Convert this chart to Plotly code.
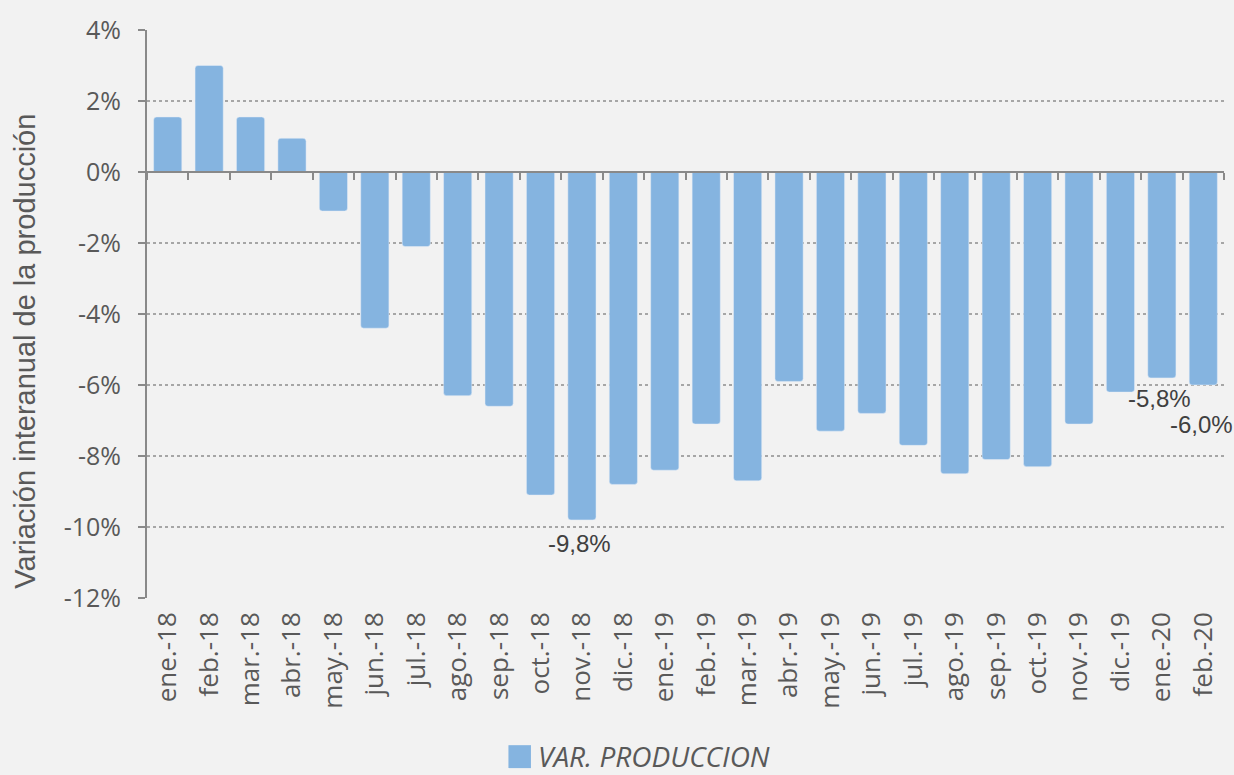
import plotly.graph_objects as go

categories = ["ene.-18", "feb.-18", "mar.-18", "abr.-18", "may.-18", "jun.-18", "jul.-18",
              "ago.-18", "sep.-18", "oct.-18", "nov.-18", "dic.-18", "ene.-19", "feb.-19",
              "mar.-19", "abr.-19", "may.-19", "jun.-19", "jul.-19", "ago.-19", "sep.-19",
              "oct.-19", "nov.-19", "dic.-19", "ene.-20", "feb.-20"]
values = [1.55, 3.0, 1.55, 0.95, -1.1, -4.4, -2.1, -6.3, -6.6, -9.1, -9.8, -8.8, -8.4, -7.1,
          -8.7, -5.9, -7.3, -6.8, -7.7, -8.5, -8.1, -8.3, -7.1, -6.2, -5.8, -6.0]
series_name = "VAR. PRODUCCION"
y_ticks = [4, 2, 0, -2, -4, -6, -8, -10, -12]
y_ticktext = [f"{v}%" for v in y_ticks]
labeled = {"nov.-18": "-9,8%", "ene.-20": "-5,8%", "feb.-20": "-6,0%"}
label_shift = {"nov.-18": (-2, -8), "ene.-20": (-2, -5), "feb.-20": (-2, -24)}

ymin, ymax = -12, 4
bar_color = "#85b4e0"
axis_color = "#898989"
text_color = "#595959"
tick_font = "Open Sans, Liberation Sans"
n = len(categories)

fig = go.Figure()
fig.add_trace(go.Bar(x=categories, y=values, name=series_name, marker_color=bar_color,
                     marker_cornerradius=3, showlegend=False))
# zero-line axis with boundary ticks
fig.add_trace(go.Bar(x=categories, y=[0] * n, xaxis="x2", marker_color="rgba(0,0,0,0)",
                     showlegend=False, hoverinfo="skip"))

for cat, txt in labeled.items():
    v = values[categories.index(cat)]
    xs, ys = label_shift[cat]
    fig.add_annotation(x=cat, y=v, text=txt, showarrow=False, yanchor="top", yshift=ys,
                       xshift=xs,
                       font=dict(family="Liberation Sans, Arial", size=24, color="#404040"))

# y-axis title
fig.add_annotation(xref="paper", yref="paper", x=-0.1135, y=0.435,
                   text="Variación interanual de la producción",
                   textangle=-90, showarrow=False, xanchor="center", yanchor="middle",
                   font=dict(family="Liberation Sans, Arial", size=29, color=text_color))

# legend (key square + italic text)
fig.add_shape(type="rect", xref="paper", yref="paper", x0=0.3356, x1=0.3565, y0=-0.2995, y1=-0.2591,
              fillcolor=bar_color, line=dict(width=0), layer="above")
fig.add_annotation(xref="paper", yref="paper", x=0.3615, y=-0.2785, text=series_name,
                   showarrow=False, xanchor="left", yanchor="middle",
                   font=dict(family=tick_font, size=28, color=text_color, style="italic"))

fig.update_layout(
    width=1234, height=775,
    paper_bgcolor="#f2f2f2", plot_bgcolor="#f2f2f2",
    margin=dict(l=147, r=10, t=30, b=177),
    bargap=0.32,
    showlegend=False,
    font=dict(family=tick_font, color=text_color),
    xaxis=dict(type="category", showline=False, showgrid=False, ticks="",
               range=[-0.5, n - 0.5], autorange=False,
               tickangle=-90, tickfont=dict(size=26, color=text_color),
               ticklabelstandoff=8),
    xaxis2=dict(type="category", overlaying="x", anchor="free",
                range=[-0.5, n - 0.5], autorange=False,
                position=(0 - ymin) / (ymax - ymin), showline=True, linecolor=axis_color,
                linewidth=2, ticks="outside", tickson="boundaries", ticklen=7,
                tickcolor=axis_color, tickwidth=2, showticklabels=False, showgrid=False),
    yaxis=dict(range=[ymin, ymax], tickvals=y_ticks, ticktext=y_ticktext,
               showline=True, linecolor=axis_color, linewidth=2,
               ticks="outside", ticklen=7, tickcolor=axis_color, tickwidth=2,
               showgrid=True, gridcolor="#a6a6a6", griddash="dot", gridwidth=1.5,
               zeroline=False, tickfont=dict(size=25, color=text_color),
               ticklabelstandoff=12),
)

fig.write_html("out.html", post_script="document.body.style.margin='0';",
               config={"displayModeBar": False})
